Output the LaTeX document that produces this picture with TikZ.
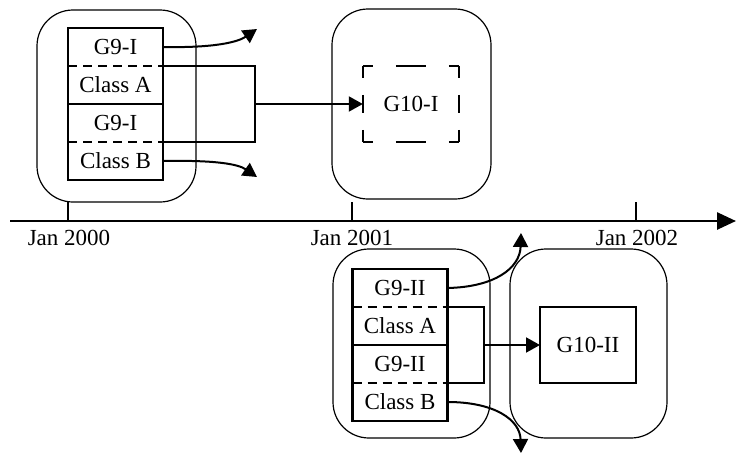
\documentclass[tikz,border=0pt]{standalone}
\usepackage{fontspec}
\setmainfont{Liberation Serif}
\usetikzlibrary{arrows.meta}
\begin{document}
\begin{tikzpicture}[x=1pt,y=-1pt,
  font=\fontsize{23}{27}\selectfont,
  era/.style={draw,line width=1.2pt,rounded corners=36pt},
  cell/.style={minimum width=95pt,minimum height=38pt,inner sep=0pt,outer sep=0pt},
  stackline/.style={line width=2.2pt},
  divdash/.style={line width=2pt,dash pattern=on 9pt off 6pt},
  conn/.style={line width=2pt,-{Triangle[length=14pt,width=15pt]}},
  link/.style={line width=2pt},
  tick/.style={line width=1.8pt},
  datelbl/.style={anchor=base}]
\useasboundingbox (0,0) rectangle (736,455);
% era boxes
\draw[era] (37,10) rectangle (196,202);
\draw[era] (332,9) rectangle (491,199);
\draw[era] (333,249) rectangle (490,438);
\draw[era] (510,249) rectangle (667,438);
% timeline
\coordinate (ts) at (10,221);
\coordinate (te) at (736,221);
\draw[line width=2.6pt,-{Triangle[length=19pt,width=17pt]}] (ts) -- (te);
\coordinate (k0) at (68,202); \coordinate (k1) at (352,202); \coordinate (k2) at (636,202);
\draw[tick] (k0) -- (68,221);
\draw[tick] (k1) -- (352,221);
\draw[tick] (k2) -- (636,221);
\node[datelbl] (d0) at (69,245) {Jan 2000};
\node[datelbl] (d1) at (352,245) {Jan 2001};
\node[datelbl] (d2) at (637,245) {Jan 2002};
% upper stack
\node[cell] (a1) at (115.5,47) {G9-I};
\node[cell] (a2) at (115.5,85) {Class A};
\node[cell] (a3) at (115.5,123) {G9-I};
\node[cell] (a4) at (115.5,161) {Class B};
\draw[stackline] (a1.north west) rectangle (a4.south east);
\draw[divdash] (a1.south west) -- (a1.south east);
\draw[stackline] (a2.south west) -- (a2.south east);
\draw[divdash] (a3.south west) -- (a3.south east);
% G10-I dashed
\node[minimum width=96pt,minimum height=76pt,inner sep=0pt] (g1) at (411,104) {G10-I};
\draw[line width=2pt,dash pattern=on 10pt off 23pt on 30pt off 23pt on 10pt] (g1.north west) -- (g1.north east);
\draw[line width=2pt,dash pattern=on 10pt off 23pt on 30pt off 23pt on 10pt] (g1.south west) -- (g1.south east);
\draw[line width=2pt,dash pattern=on 12pt off 17pt on 18pt off 17pt on 12pt] (g1.north west) -- (g1.south west);
\draw[line width=2pt,dash pattern=on 12pt off 17pt on 18pt off 17pt on 12pt] (g1.north east) -- (g1.south east);
% upper bracket and arrow
\coordinate (j1) at (255,104);
\draw[link] (a1.south east) -| (j1) |- (a3.south east);
\draw[conn] (j1) -- (g1.west);
% upper curved arrows
\coordinate (t1) at (257,29);
\coordinate (t2) at (257,177);
\draw[conn] (a1.east) .. controls (215,48) and (238,42) .. (t1);
\draw[conn] (a4.east) .. controls (215,160) and (238,164) .. (t2);
% lower stack
\node[cell] (b1) at (400,288) {G9-II};
\node[cell] (b2) at (400,326) {Class A};
\node[cell] (b3) at (400,364) {G9-II};
\node[cell] (b4) at (400,402) {Class B};
\draw[stackline] (b1.north west) rectangle (b4.south east);
\draw[divdash] (b1.south west) -- (b1.south east);
\draw[stackline] (b2.south west) -- (b2.south east);
\draw[divdash] (b3.south west) -- (b3.south east);
% G10-II
\node[cell,draw,line width=2.2pt,minimum width=96pt,minimum height=76pt] (g2) at (588,345) {G10-II};
\coordinate (j2) at (484,345);
\draw[link] (b1.south east) -| (j2) |- (b3.south east);
\draw[conn] (j2) -- (g2.west);
% lower curved arrows
\coordinate (t3) at (521,233);
\coordinate (t4) at (521,453);
\draw[conn] (b1.east) .. controls (495,287) and (520,268) .. (t3);
\draw[conn] (b4.east) .. controls (495,402) and (520,420) .. (t4);
\end{tikzpicture}
\end{document}
